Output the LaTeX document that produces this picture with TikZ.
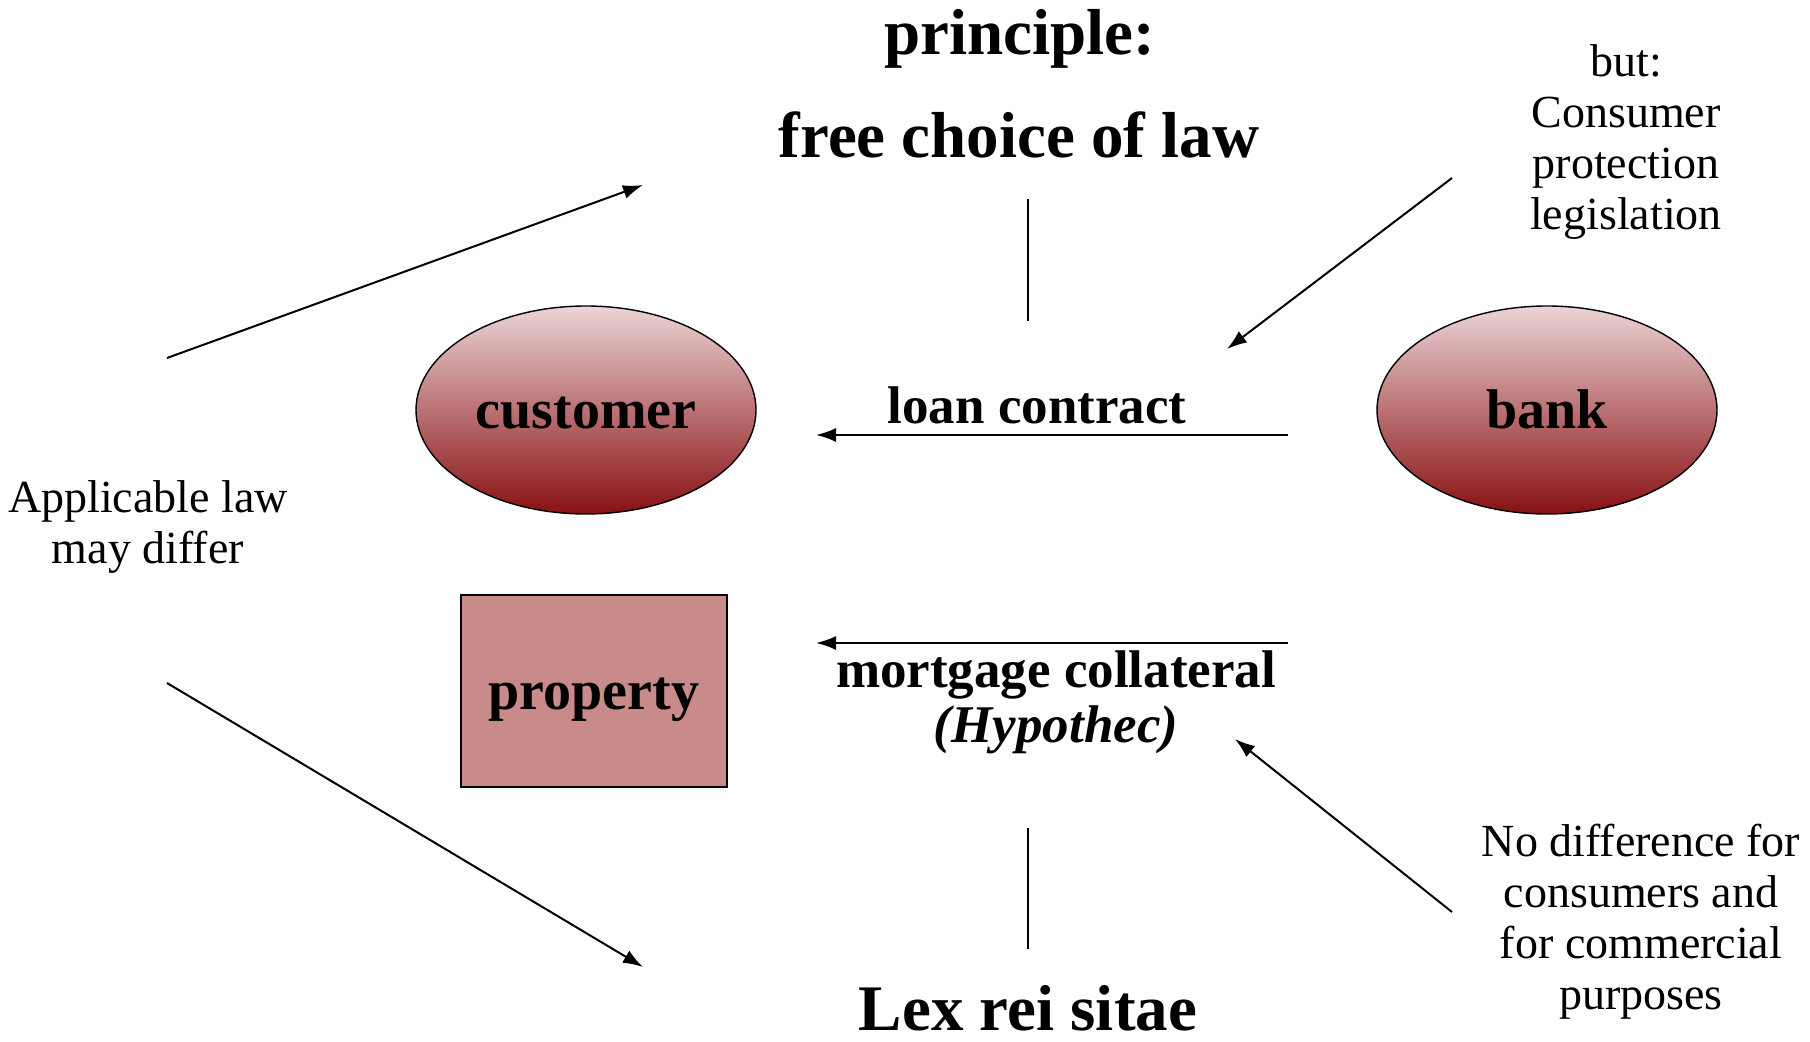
\documentclass[tikz,border=0pt]{standalone}
\usepackage{fontspec}
\setmainfont{Liberation Serif}
\usepackage{tikz}
\usetikzlibrary{shapes,arrows.meta,positioning}
\definecolor{partytop}{RGB}{236,212,214}
\definecolor{partybot}{RGB}{136,16,18}
\definecolor{propfill}{RGB}{201,138,138}

\begin{document}
\begin{tikzpicture}[x=0.5pt,y=-0.5pt,>={Latex[length=10pt,width=7pt]},
                every node/.style={inner sep=0pt, align=center},
                party/.style={draw, ellipse, line width=0.7pt, top color=partytop, bottom color=partybot, minimum width=170pt, minimum height=104pt, text height=19pt, text depth=0pt, font=\fontsize{28}{30}\bfseries},
                asset/.style={draw, rectangle, line width=0.8pt, fill=propfill, minimum width=133pt, minimum height=96pt, text height=19pt, text depth=0pt, font=\fontsize{28}{30}\bfseries},
                title/.style={anchor=base, font=\fontsize{32.5}{34}\bfseries},
                label/.style={anchor=base, font=\fontsize{26.5}{27}\bfseries},
                note/.style={font=\fontsize{23}{25.5}\selectfont},
                link/.style={line width=1pt}
                ]
                \useasboundingbox (0,0) rectangle (1810,1042);
                % parties and property
                \node[party] (customer) at (586,410) {customer};
                \node[party] (bank) at (1547,410) {bank};
                \node[asset] (property) at (594,691) {property};
                % headings
                \node[title] (principle) at (1020,55) {principle:};
                \node[title] (freechoice) at (1019,158) {free choice of law};
                \node[title] (lex) at (1028,1030) {Lex rei sitae};
                \node[label] (loan) at (1037,424) {loan contract};
                \node[label] (mortgage) at (1056,688) {mortgage collateral};
                \node[label] (hypothec) at (1056,742) {\itshape (Hypothec)};
                % side notes
                \node[note] (applicable) at (148,527) {Applicable law\\may differ};
                \node[note] (consumer) at (1626,142) {but:\\Consumer\\protection\\legislation};
                \node[note] (nodiff) at (1641,922) {No difference for\\consumers and\\for commercial\\purposes};
                % connector ends
                \coordinate (loanR) at (1288,435);
                \coordinate (loanL) at (816,435);
                \coordinate (mortR) at (1288,643);
                \coordinate (mortL) at (816,643);
                \coordinate (upA) at (1028,199);
                \coordinate (upB) at (1028,321);
                \coordinate (lowA) at (1028,828);
                \coordinate (lowB) at (1028,949);
                \coordinate (appUp) at (167,358);
                \coordinate (appDown) at (167,683);
                \coordinate (choiceTip) at (643,185);
                \coordinate (lexTip) at (643,967);
                \coordinate (consFrom) at (1452,178);
                \coordinate (consTip) at (1227,349);
                \coordinate (diffFrom) at (1452,912);
                \coordinate (diffTip) at (1235,739);
                \draw[->,link] (loanR) -- (loanL);
                \draw[->,link] (mortR) -- (mortL);
                \draw[link] (upA) -- (upB);
                \draw[link] (lowA) -- (lowB);
                \draw[->,link] (appUp) -- (choiceTip);
                \draw[->,link] (appDown) -- (lexTip);
                \draw[->,link] (consFrom) -- (consTip);
                \draw[->,link] (diffFrom) -- (diffTip);
        \end{tikzpicture}
\end{document}
